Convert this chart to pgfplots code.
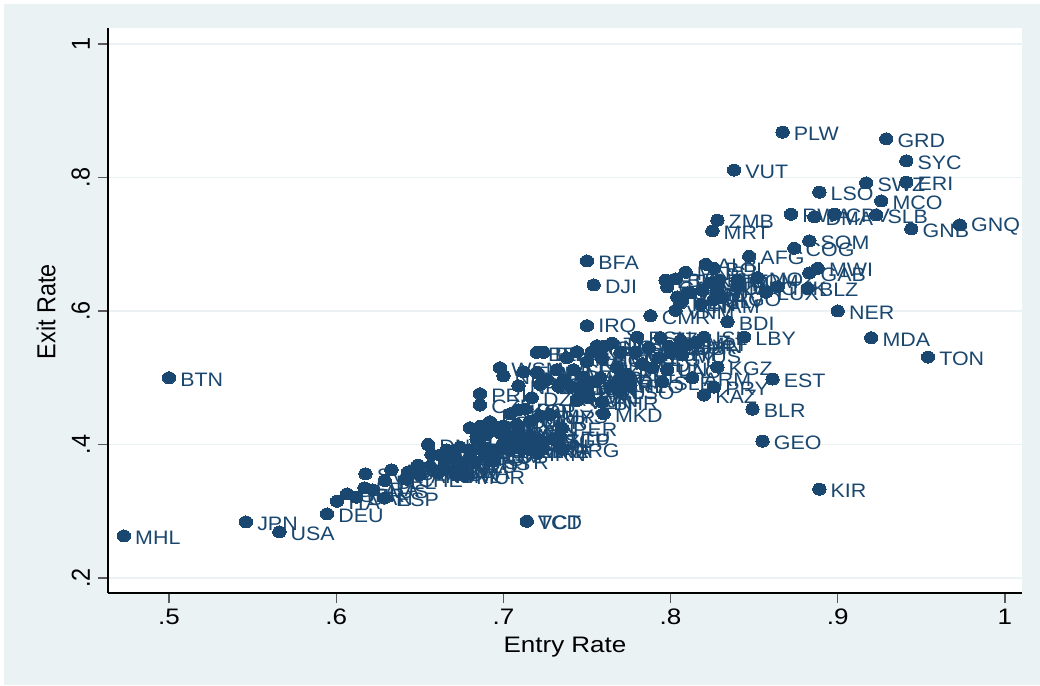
\documentclass[border=0pt]{standalone}
\usepackage{pgfplots}
\usepackage{pgfplotstable}
\usepackage{fontspec}
\setmainfont{Liberation Sans}
\newfontfamily\widefont[FakeStretch=1.16]{Liberation Sans}
\newfontfamily\narrowfont[FakeStretch=0.9]{Liberation Sans}
\newfontfamily\markfont[FakeStretch=1.1]{Liberation Sans}
\pgfplotsset{compat=1.18}
\definecolor{stbg}{HTML}{EAF2F3}
\definecolor{stnavy}{HTML}{1A476F}
\pgfplotstableread{
x y label
.473 .263 MHL
.500 .500 BTN
.546 .284 JPN
.566 .269 USA
.5945 .296 DEU
.714 .285 VCT
.714 .285 TCD
.889 .333 KIR
.855 .405 GEO
.849 .453 BLR
.820 .474 KAZ
.861 .498 EST
.826 .486 PRY
.954 .531 TON
.920 .560 MDA
.900 .600 NER
.844 .561 LBY
.834 .584 BDI
.750 .578 IRQ
.754 .639 DJI
.750 .675 BFA
.788 .593 CMR
.825 .720 MRT
.828 .736 ZMB
.838 .811 VUT
.867 .868 PLW
.929 .858 GRD
.941 .825 SYC
.941 .793 ERI
.917 .792 SWZ
.926 .765 MCO
.889 .778 LSO
.872 .745 RWA
.886 .741 DMA
.898 .745 CPV
.923 .744 SLB
.944 .723 GNB
.973 .729 GNQ
.883 .705 SOM
.874 .694 COG
.847 .682 AFG
.888 .664 MWI
.883 .657 GAB
.882 .634 BLZ
.864 .636 TJK
.857 .628 LUX
.852 .650 MOZ
.821 .670 ALB
.826 .664 BOL
.831 .620 AGO
.797 .646 ETH
.798 .636 CAF
.803 .648 BRN
.809 .658 MNG
.804 .621 TGO
.807 .616 YEM
.803 .601 VNM
.812 .627 HND
.818 .610 NAM
.819 .631 PAK
.828 .636 SDN
.829 .646 NIC
.826 .617 SLV
.824 .642 GTM
.840 .636 MAC
.840 .646 COM
.810 .627 LBN
.806 .612 KEN
.765 .552 TLS
.780 .561 ESH
.794 .560 TZA
.810 .549 SVN
.820 .561 ISL
.815 .553 MLT
.806 .556 SLZ
.800 .537 HTI
.807 .534 MUS
.798 .512 LAO
.813 .500 ARM
.795 .494 SLE
.828 .516 KGZ
.776 .489 TTO
.759 .464 BHR
.744 .468 OMN
.751 .470 QAT
.760 .446 MKD
.756 .548 PNG
.760 .547 GIN
.753 .539 NPL
.759 .529 BGD
.750 .524 KHM
.738 .530 GHA
.744 .539 UGA
.732 .512 MLI
.742 .512 SEN
.748 .501 MAR
.758 .500 CIV
.768 .515 ZWE
.774 .505 PHL
.770 .497 IDN
.783 .521 IND
.789 .515 TUN
.793 .530 EGY
.787 .545 NGA
.779 .538 GMB
.770 .538 GNM
.799 .547 CUB
.806 .548 SUR
.712 .509 ECU
.720 .508 BWA
.726 .497 PAN
.736 .497 DOM
.740 .487 CRI
.746 .486 JOR
.722 .490 GUY
.733 .487 JAM
.750 .480 ROU
.755 .494 BGR
.765 .489 CHL
.770 .480 LSO
.720 .538 BEN
.724 .538 BIH
.698 .515 WSM
.700 .503 NIU
.709 .488 NRU
.686 .476 PRI
.686 .459 CZE
.717 .470 DZA
.744 .466 VEN
.722 .443 TUR
.704 .446 THA
.709 .452 KOR
.713 .453 POL
.696 .426 MEX
.686 .427 HUN
.680 .425 GRC
.692 .434 PRT
.700 .428 URY
.708 .430 CHN
.716 .435 UKR
.728 .445 MYS
.735 .425 PER
.734 .412 LTU
.684 .412 LVA
.690 .415 ISR
.698 .417 RUS
.704 .412 KWT
.709 .415 ARE
.716 .412 SAU
.722 .407 NZL
.730 .408 SGP
.666 .392 DAR
.670 .381 AZE
.674 .396 BLM
.680 .392 MDV
.684 .407 CYP
.688 .396 BRB
.692 .384 COL
.696 .392 GRL
.700 .402 BLM
.704 .392 HRV
.710 .396 SRB
.716 .392 MNE
.722 .392 LKA
.735 .393 ARG
.7205 .387 IRN
.694 .375 SYR
.665 .374 PAL
.675 .369 MLD
.683 .374 BHS
.662 .384 ABW
.680 .380 ATG
.689 .384 ASM
.703 .396 KNA
.708 .403 LCA
.715 .400 TWN
.6005 .315 ITA
.6065 .326 GBR
.6175 .356 SVK
.617 .335 FRA
.612 .321 CAN
.622 .332 AUS
.629 .320 ESP
.629 .346 BEL
.633 .362 AUT
.643 .359 SWE
.649 .369 NOR
.655 .400 DNK
.657 .385 FIN
.642 .348 CHE
.656 .367 SMR
.664 .362 NLD
.672 .354 IRL
.677 .353 MUR
.671 .361 BRA
.661 .358 MON
.650 .355 AND
}\datatable
\begin{document}
\begin{tikzpicture}
\begin{scope}[x=0.75pt,y=0.75pt]
\useasboundingbox (0,0) rectangle (1040,686);
\fill[white] (0,0) rectangle (1040,686);
\fill[stbg] (4,1) rectangle (1040,682);
\end{scope}
\begin{axis}[
  at={(81pt,69.75pt)}, anchor=south west,
  scale only axis, width=685.5pt, height=423.75pt,
  xmin=.4635, xmax=1.0102, ymin=.1775, ymax=1.024,
  axis background/.style={fill=white},
  axis lines=left, axis line style={-, black, line width=1pt},
  clip=false,
  tick align=outside,
  major tick length=7.5pt,
  tick style={color=black!65, line width=1pt},
  xtick={.5,.6,.7,.8,.9,1}, xticklabels={.5,.6,.7,.8,.9,1},
  ytick={.2,.4,.6,.8,1}, yticklabels={.2,.4,.6,.8,1},
  ymajorgrids, grid style={stbg, line width=1.1pt},
  xticklabel style={font=\widefont\fontsize{16.8}{18}\selectfont, black, yshift=-1pt},
  yticklabel style={font=\narrowfont\fontsize{19.5}{20}\selectfont, black, rotate=90, anchor=south, yshift=2.5pt},
  xlabel={Entry Rate}, ylabel={Exit Rate},
  xlabel style={font=\widefont\fontsize{16.8}{18}\selectfont, black, yshift=-2pt},
  ylabel style={font=\narrowfont\fontsize{19.5}{20}\selectfont, black, yshift=5pt, xshift=-1pt},
]
\addplot[only marks, color=stnavy, mark=*,
  mark size=5pt, mark options={fill=stnavy, draw=stnavy, line width=0pt, yscale=.9},
  point meta=explicit symbolic,
  nodes near coords,
  nodes near coords style={anchor=west, inner sep=0pt, xshift=8.5pt, yshift=-1.5pt, text=stnavy,
     font=\markfont\fontsize{14.6}{16}\selectfont}
] table[x=x, y=y, meta=label] {\datatable};
\end{axis}
\end{tikzpicture}
\end{document}
